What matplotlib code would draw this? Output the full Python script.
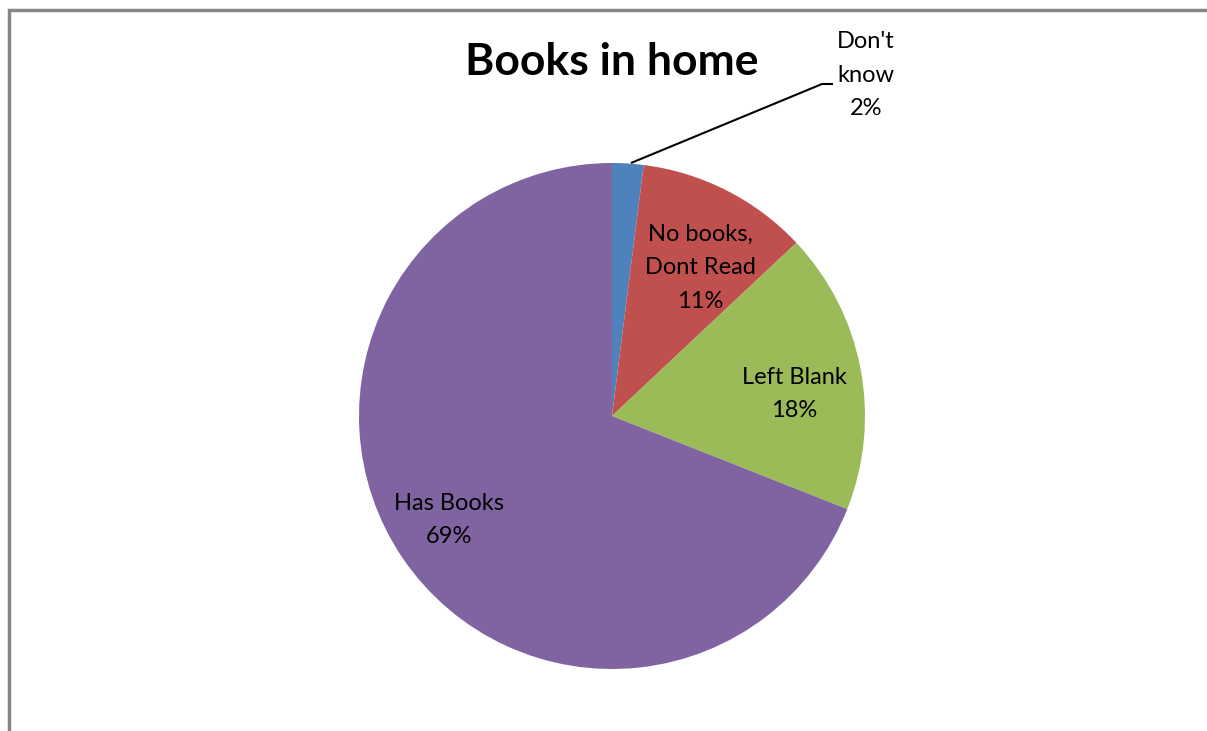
import matplotlib.pyplot as plt

W, H = 1207, 731

labels = ["Don't\nknow", "No books,\nDont Read", "Left Blank", "Has Books"]
values = [2, 11, 18, 69]
colors = ["#4F81BD", "#C0504D", "#9BBB59", "#8064A2"]

plt.rcParams["font.family"] = ["Lato", "DejaVu Sans"]

fig = plt.figure(figsize=(W / 100, H / 100), dpi=100)
ax = fig.add_axes([0, 0, 1, 1])

cx, cy, r = 612, H - 416, 253
wedges, _ = ax.pie(values, colors=colors, startangle=90, counterclock=False,
                   center=(cx, cy), radius=r, frame=True,
                   wedgeprops=dict(linewidth=0))
ax.set_xlim(0, W)
ax.set_ylim(0, H)
ax.set_aspect("equal")
ax.axis("off")

# label positions in pixel coords (y measured from top)
label_pos = [(866, 75), (700, 268), (794, 394), (449, 520)]
for lab, v, (x, y) in zip(labels, values, label_pos):
    ax.text(x, H - y, f"{lab}\n{v}%", ha="center", va="center",
            fontsize=17, linespacing=1.72, color="black")

# leader line for the small slice
ax.plot([631, 822, 833], [H - 163, H - 84, H - 84], color="black", lw=1.5,
        solid_capstyle="butt")

ax.text(612, H - 62, "Books in home", ha="center", va="center",
        fontsize=32, fontweight="bold")

# chart frame (left and top edges)
ax.plot([9, 9, W], [0, H - 10, H - 10], color="#868686", lw=2.5,
        solid_joinstyle="miter")

fig.savefig("out.png", dpi=100)
